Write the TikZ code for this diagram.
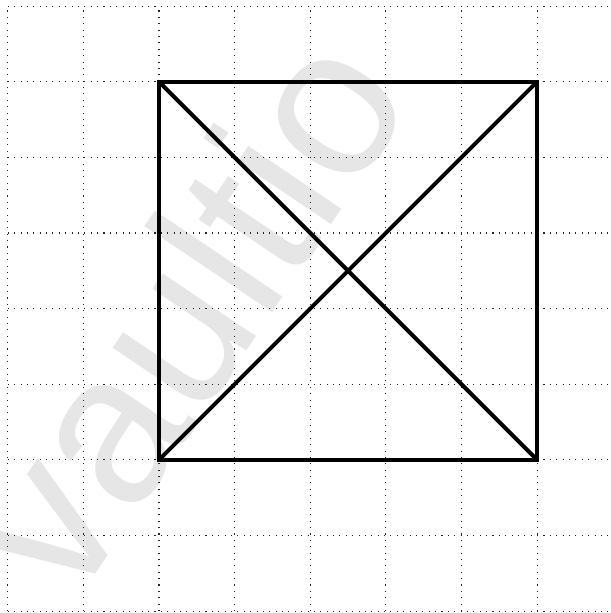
\documentclass[tikz,border=0pt]{standalone}
\usepackage{fontspec}
\setsansfont{Liberation Sans}
\usepackage{tikz}
\usetikzlibrary{positioning}
\definecolor{wmgray}{RGB}{230,230,230}

\begin{document}
\begin{tikzpicture}[x=1cm,y=1cm,
    raster/.style={dotted,line width=0.4pt,black!85},
    edge/.style={line width=1.5pt,line join=miter},
    mark text/.style={wmgray,font=\sffamily\fontsize{80}{90}\selectfont,rotate=56}]
   \useasboundingbox (-0.103,-0.026) rectangle (7.966,8.082);
   % watermark behind everything
   \node[mark text] (wm) at (2.30,3.96) {vaultio};
   % dotted paper
   \draw[raster] (0,0) grid (7.966,8);
   % corners of the square
   \coordinate (tl) at (2,7);
   \coordinate (tr) at (7,7);
   \coordinate (br) at (7,2);
   \coordinate (bl) at (2,2);
   \draw[edge] (tl) -- (tr) -- (br) -- (bl) -- cycle;
   \draw[edge] (tl) -- (br);
   \draw[edge] (bl) -- (tr);
\end{tikzpicture}
\end{document}
